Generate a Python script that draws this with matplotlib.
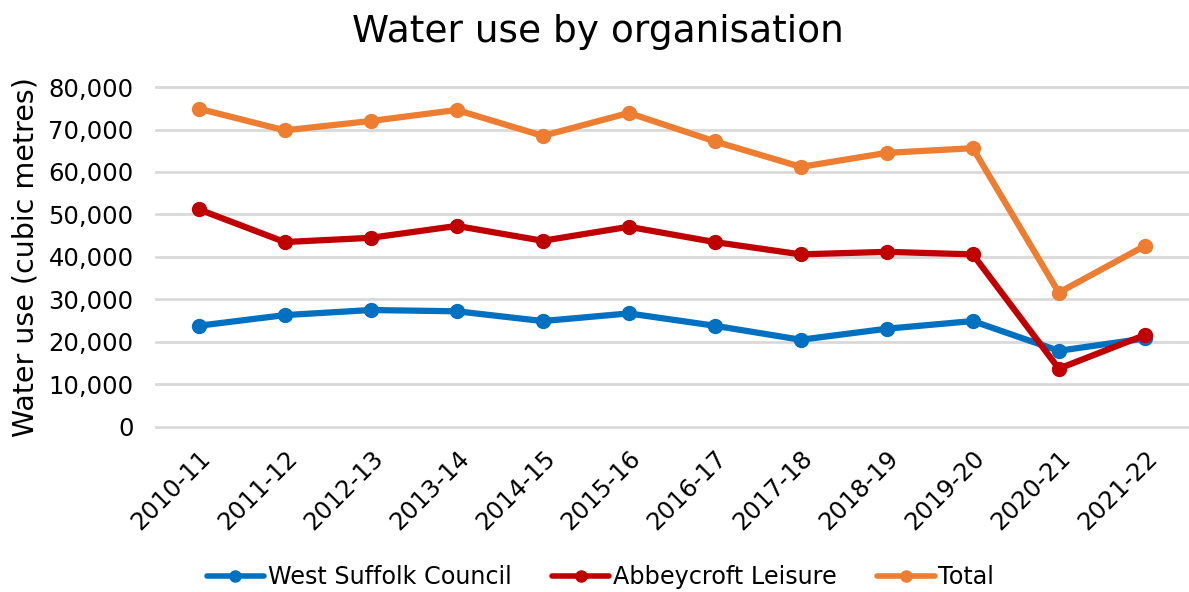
import matplotlib.pyplot as plt
import numpy as np

# data
years = ["2010-11", "2011-12", "2012-13", "2013-14", "2014-15", "2015-16",
         "2016-17", "2017-18", "2018-19", "2019-20", "2020-21", "2021-22"]
west_suffolk = [23800, 26300, 27500, 27200, 24900, 26700,
                23800, 20500, 23100, 24900, 17900, 20800]
abbeycroft = [51200, 43500, 44500, 47300, 43800, 47100,
              43500, 40600, 41200, 40600, 13700, 21600]
total = [74900, 69800, 72000, 74600, 68500, 73900,
         67200, 61200, 64500, 65600, 31600, 42600]

fig = plt.figure(figsize=(11.89, 5.92), dpi=100, facecolor='w')
ax = fig.add_axes([0.131, 0.279, 0.868, 0.574])

x = np.arange(len(years))
series = [("West Suffolk Council", west_suffolk, "#0070C0"),
          ("Abbeycroft Leisure", abbeycroft, "#C00000"),
          ("Total", total, "#ED7D31")]
for name, vals, col in series:
    ax.plot(x, vals, color=col, linewidth=4.5, marker='o', markersize=10,
            label=name, solid_capstyle='round')

ax.set_xlim(-0.5, len(years) - 0.5)
ax.set_ylim(0, 80000)
ax.set_yticks(np.arange(0, 80001, 10000))
ax.set_yticklabels([f"{v:,}" for v in range(0, 80001, 10000)], fontsize=17.5)
ax.set_xticks(x)
ax.set_xticklabels(years, rotation=45, ha='right', rotation_mode='anchor', fontsize=17.5)
ax.tick_params(axis='y', length=0, pad=16)
ax.tick_params(axis='x', length=0, pad=14)
ax.grid(axis='y', color='#D9D9D9', linewidth=2)
for gl in ax.get_ygridlines():
    gl.set_clip_on(False)
ax.set_axisbelow(True)
for s in ax.spines.values():
    s.set_visible(False)

ax.set_ylabel("Water use (cubic metres)", fontsize=20.5, labelpad=6)
fig.text(0.503, 0.946, "Water use by organisation", fontsize=27,
         ha='center', va='center')

leg = fig.legend(loc='center', bbox_to_anchor=(0.505, 0.025), ncol=3, frameon=False,
                 prop={'size': 17.2}, handlelength=2.4,
                 columnspacing=1.7, handletextpad=0.15)
for h in leg.legend_handles:
    h.set_markersize(8)
    h.set_linewidth(4)

fig.savefig("out.png", dpi=100)
